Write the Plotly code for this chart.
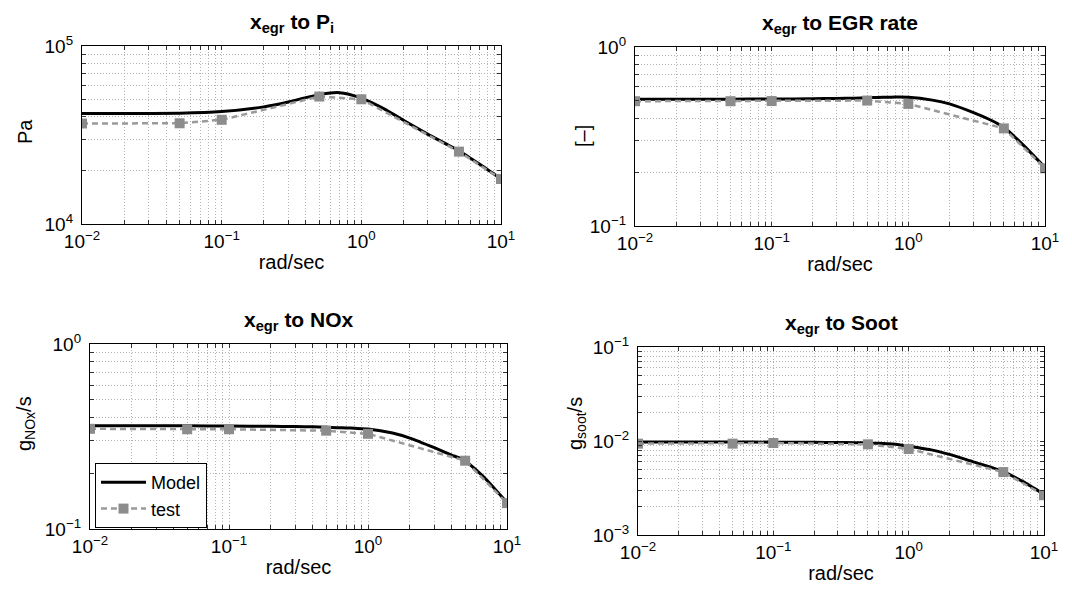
import plotly.graph_objects as go

# ---------------- data ----------------
freq_model = [0.01, 0.02, 0.05, 0.1, 0.2, 0.3, 0.4, 0.5, 0.6, 0.7, 0.8, 1.0, 1.5, 2, 3, 4, 5, 7, 10]
freq_test = [0.01, 0.05, 0.1, 0.5, 1.0, 5, 10]

pi_model = [41700, 41700, 41900, 42800, 45500, 48500, 51300, 53300, 54500, 54700, 53800, 50900,
            43800, 38300, 31900, 28300, 25800, 21700, 17900]
pi_test = [36700, 36800, 38500, 52000, 50200, 25500, 17900]

egr_model = [0.510, 0.510, 0.511, 0.512, 0.514, 0.516, 0.518, 0.521, 0.523, 0.524, 0.525, 0.524,
             0.505, 0.481, 0.430, 0.391, 0.356, 0.281, 0.212]
egr_test = [0.498, 0.498, 0.499, 0.502, 0.481, 0.351, 0.210]

nox_model = [0.361, 0.361, 0.361, 0.360, 0.359, 0.358, 0.357, 0.355, 0.353, 0.352, 0.350, 0.347,
             0.330, 0.310, 0.275, 0.251, 0.234, 0.187, 0.139]
nox_test = [0.348, 0.346, 0.346, 0.340, 0.327, 0.234, 0.138]

soot_model = [0.00975, 0.00975, 0.00975, 0.00972, 0.00968, 0.00964, 0.00958, 0.00952, 0.00945,
              0.00935, 0.00922, 0.00880, 0.00800, 0.00720, 0.00600, 0.00530, 0.00471, 0.00370, 0.00271]
soot_test = [0.00937, 0.00937, 0.00952, 0.00922, 0.00823, 0.00467, 0.00265]

titles = ["<b>x<sub>egr</sub> to P<sub>i</sub></b>", "<b>x<sub>egr</sub> to EGR rate</b>",
          "<b>x<sub>egr</sub> to NOx</b>", "<b>x<sub>egr</sub> to Soot</b>"]
ylabels = ["Pa", "[\u2013]", "g<sub>NOx</sub>/s", "g<sub>soot</sub>/s"]
xlabel = "rad/sec"
y_decades = [(4, 5), (-1, 0), (-1, 0), (-3, -1)]
x_decades = (-2, 1)

# ---------------- layout geometry (pixels) ----------------
W, H = 1072, 592
boxes = [(82, 501, 46, 224), (635, 1045, 47, 226), (90, 507, 344, 529), (638, 1044, 347, 535)]
ytitle_pos = [(25, 132), (583, 136), (25, 424), (576, 424)]

FONT = "Liberation Sans, Arial, Helvetica, sans-serif"


def sup(e):
    return "10<sup>%s</sup>" % (str(e).replace("-", "\u2212"))


def log_ticks(d0, d1):
    vals, texts = [], []
    for d in range(d0, d1 + 1):
        for m in range(1, 10):
            if d == d1 and m > 1:
                break
            vals.append(m * 10 ** d)
            texts.append(sup(d) if m == 1 else "")
    return vals, texts


fig = go.Figure()
series = [(pi_model, pi_test), (egr_model, egr_test), (nox_model, nox_test), (soot_model, soot_test)]

layout = dict(width=W, height=H, margin=dict(l=0, r=0, t=0, b=0, autoexpand=False),
              paper_bgcolor="white", plot_bgcolor="white",
              font=dict(family=FONT, size=19, color="black"), annotations=[])

for i, ((m, t), (x0, x1, y0, y1)) in enumerate(zip(series, boxes)):
    n = i + 1
    xa = "x" if n == 1 else "x%d" % n
    ya = "y" if n == 1 else "y%d" % n
    show = (i == 2)
    fig.add_trace(go.Scatter(x=freq_model, y=m, mode="lines", name="Model", xaxis=xa, yaxis=ya,
                             line=dict(color="black", width=3, shape="spline", smoothing=0.5),
                             showlegend=show, legendrank=1))
    fig.add_trace(go.Scatter(x=freq_test, y=t, mode="lines+markers", name="test", xaxis=xa, yaxis=ya,
                             line=dict(color="#9a9a9a", width=2.5, dash="6px,4px"),
                             marker=dict(symbol="square", size=10, color="#8c8c8c"),
                             showlegend=show, legendrank=2))

    xv, xt = log_ticks(*x_decades)
    yv, yt = log_ticks(*y_decades[i])
    common = dict(type="log", showline=True, linecolor="black", linewidth=1.2, mirror="ticks",
                  ticks="inside", ticklen=4, tickcolor="#333", showgrid=True, gridcolor="#b4b4b4",
                  griddash="1px,2px", gridwidth=1, zeroline=False, tickmode="array",
                  automargin=False, tickfont=dict(size=19, family=FONT))
    layout["xaxis" if n == 1 else "xaxis%d" % n] = dict(
        common, domain=[x0 / W, x1 / W], anchor=ya, range=list(x_decades),
        tickvals=xv, ticktext=xt,
        title=dict(text=xlabel, font=dict(size=20), standoff=4))
    layout["yaxis" if n == 1 else "yaxis%d" % n] = dict(
        common, domain=[1 - y1 / H, 1 - y0 / H], anchor=xa, range=list(y_decades[i]),
        tickvals=yv, ticktext=yt, ticklabelstandoff=4)
    layout["annotations"].append(dict(
        text=titles[i], x=(x0 + x1) / 2 / W, y=1 - y0 / H + 8 / H, xref="paper", yref="paper",
        xanchor="center", yanchor="bottom", showarrow=False, font=dict(size=21, family=FONT)))
    tx, ty = ytitle_pos[i]
    layout["annotations"].append(dict(
        text=ylabels[i], x=tx / W, y=1 - ty / H, xref="paper", yref="paper", textangle=-90,
        xanchor="center", yanchor="middle", showarrow=False, font=dict(size=20, family=FONT)))

layout["legend"] = dict(x=95 / W, y=1 - 528 / H, xanchor="left", yanchor="bottom",
                        bordercolor="black", borderwidth=1, bgcolor="white",
                        font=dict(size=18, family=FONT), itemwidth=45, tracegroupgap=0,
                        entrywidth=100, entrywidthmode="pixels")

fig.update_layout(**layout)
fig.write_html("out.html")
